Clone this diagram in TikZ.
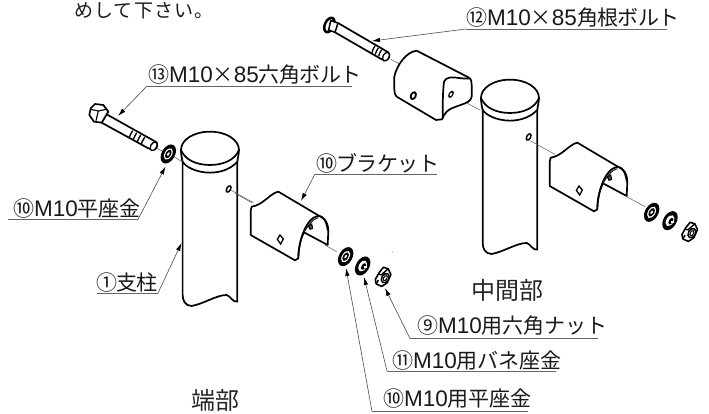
\documentclass[tikz,border=0pt]{standalone}
\usepackage{fontspec}
\setmainfont{Noto Sans CJK JP}
\newfontfamily\lat{Liberation Sans}
\usetikzlibrary{arrows.meta}
\newcommand{\spc}[1]{\addfontfeature{LetterSpace=#1}}
\newcommand{\mten}{{\lat\fontsize{22.5}{23}\selectfont M10}}
\newcommand{\ef}{{\lat\fontsize{22.5}{23}\selectfont 85}}
\tikzset{
 ink/.style={line width=1.7pt,line join=round,line cap=round},
 fine/.style={line width=.5pt,draw=black!65},
 lead/.style={line width=.6pt,draw=black!70,-{Latex[length=8pt,width=4.5pt,black]}},
 under/.style={line width=.6pt,draw=black!60},
 lab/.style={inner sep=0pt,anchor=west,font=\fontsize{21}{23}\selectfont,text=black!90},
 big/.style={inner sep=0pt,font=\fontsize{24}{26}\selectfont,text=black!85},
 zone/.style={x=.3333pt,y=-.3333pt}
}
\newcommand{\rpost}{%
 \draw[ink,fill=white] (548,330)--(548,735) .. controls (548,750) and (555,768) .. (575,768)
   .. controls (610,762) and (650,735) .. (680,735) .. controls (692,738) and (698,758) .. (712,755) --(712,330);
 \draw[ink,fill=white] (630,245) .. controls (680,245) and (717,270) .. (717,300)
   .. controls (717,312) and (712,330) .. (712,335) .. controls (695,355) and (665,368) .. (630,368)
   .. controls (590,368) and (555,350) .. (548,335) .. controls (545,325) and (543,310) .. (543,300)
   .. controls (543,270) and (580,245) .. (630,245) -- cycle;
 \draw[ink] (543,300) .. controls (555,330) and (590,345) .. (630,345) .. controls (670,345) and (705,330) .. (717,300);
 \fill[black,rotate around={-30:(686,417)}] (686,417) ellipse [x radius=8,y radius=13];
 \fill[white,rotate around={-30:(686,417)}] (686,417) ellipse [x radius=3,y radius=7];
}
\newcommand{\rbracket}{%
 \draw[ink,fill=white] (65,170) .. controls (100,165) and (120,130) .. (145,125)
   -- (280,205) .. controls (292,215) and (295,230) .. (295,245) -- (293,285)
   -- (222,247) .. controls (210,270) and (205,300) .. (205,325) -- (195,331) -- (62,255) -- (62,195)
   .. controls (62,185) and (62,175) .. (65,170) -- cycle;
 \draw[ink] (205,325) .. controls (205,280) and (225,205) .. (265,197) .. controls (280,197) and (290,215) .. (293,240);
 \draw[line width=1.1pt,draw=black!85] (222,247) .. controls (235,225) and (250,205) .. (265,203);
 \draw[line width=1pt,fill=black!70] (235,228)--(245,222)--(248,235)--(240,238)--cycle;
 \draw[line width=1.3pt,fill=white] (150,255)--(160,267)--(152,282)--(142,268)--cycle;
}
\newcommand{\rwasher}[1]{%
 \fill[black,rotate around={-30:(#1)}] (#1) ellipse [x radius=20,y radius=31];
 \fill[white,rotate around={-30:(#1)}] (#1) ellipse [x radius=11,y radius=19];
 \fill[black,rotate around={-30:(#1)}] (#1) ellipse [x radius=8,y radius=14];
 \fill[white,rotate around={-30:(#1)}] (#1) ellipse [x radius=3,y radius=6];
}
\newcommand{\rspring}[1]{%
 \fill[black,rotate around={-30:(#1)}] (#1) ellipse [x radius=20,y radius=31];
 \fill[white,rotate around={-30:(#1)}] (#1) ellipse [x radius=11,y radius=18];
 \fill[black,rotate around={-30:(#1)}] ([xshift=1pt]#1) ellipse [x radius=6,y radius=11];
 \fill[white] ([xshift=1.2pt,yshift=-.3pt]#1) rectangle ([xshift=4pt,yshift=-2pt]#1);
}
\newcommand{\rnut}[1]{%
 \begin{scope}[shift={(#1)},rotate=-30,x=1pt,y=1pt]
 \draw[line width=1.6pt,line join=round,fill=white] (-5,2)--(-4,8.5)--(1,9.5)--(6,6)--(7,-3)--(4,-9)--(-2,-9.5)--(-5,-6)--cycle;
 \draw[line width=1.4pt] (-5,0)--(-2,1)--(0,7)--(1,9.5);
 \draw[line width=1.4pt] (-2,-9)--(-2,-5);
 \draw[line width=1.5pt] (3,0) ellipse [x radius=3.5,y radius=5];
 \draw[line width=1pt] (3,0) ellipse [x radius=1.6,y radius=2.8];
 \end{scope}
}
\begin{document}
\begin{tikzpicture}[x=1pt,y=-1pt]
\useasboundingbox (0,0) rectangle (709,414);
% ---------- left assembly
\begin{scope}[shift={(0pt,-50pt)},zone]
 \rpost
 \draw[fine] (472,295)--(490,305) (522,320)--(545,335) (692,420)--(760,458);
 % bolt
 \draw[ink,fill=white] (320,193)--(470,277) .. controls (475,285) and (470,298) .. (460,300) -- (445,295) -- (305,218);
 \draw[line width=1.3pt,fill=white,rotate around={-30:(461,289)}] (461,289) ellipse [x radius=9,y radius=14];
 \foreach \d in {0,12,24,36}{\draw[line width=1.4pt] (398+\d,242+.55*\d) .. controls (392+\d,250+.55*\d) and (390+\d,258+.55*\d) .. (388+\d,262+.55*\d);}
 \draw[ink,fill=white] (285,162)--(310,165)--(325,185)--(310,210)--(305,218)--(282,215)--(268,195)--(272,175)--cycle;
 \draw[line width=1.1pt] (272,178)--(295,183)--(320,178) (295,183)--(288,212);
 \rwasher{505,312}
\end{scope}
\begin{scope}[shift={(230pt,-150pt)},zone]
 \draw[fine] (15,130)--(65,158) (285,285)--(320,305);
 \fill[black!50] (487,307) circle (1.5);
 \rbracket
 \rwasher{347,320}
 \rspring{398,348}
 \rnut{458,380}
\end{scope}
% ---------- right assembly
\begin{scope}[shift={(300pt,2pt)},zone]
 \rpost
\end{scope}
\begin{scope}[shift={(300pt,0pt)},zone]
 % bolt
 \draw[ink,fill=white] (114,69)--(265,157) .. controls (272,165) and (268,178) .. (257,181) -- (245,178)--(105,97);
 \draw[line width=1.3pt,fill=white,rotate around={-30:(258,170)}] (258,170) ellipse [x radius=9,y radius=14];
 \foreach \d in {0,10,20}{\draw[line width=1.3pt] (225+\d,138+.55*\d) .. controls (220+\d,145+.55*\d) and (217+\d,152+.55*\d) .. (216+\d,158+.55*\d);}
 \fill[black,rotate around={-25:(88,75)}] (88,75) ellipse [x radius=17,y radius=27];
 \fill[white,rotate around={-25:(88,75)}] (88,75) ellipse [x radius=9,y radius=19];
 \draw[line width=1.5pt,line join=round,fill=white] (92,62)--(114,69)--(105,97)--(86,90)--cycle;
 \draw[fine] (272,178)--(297,191) (465,290)--(540,330);
 % bracket
 \draw[ink,fill=white] (283,230) .. controls (290,195) and (320,155) .. (350,152)
   -- (505,232) .. controls (515,238) and (515,245) .. (515,255) -- (515,290)
   .. controls (512,315) and (460,315) .. (440,335) .. controls (432,345) and (428,352) .. (426,358)
   -- (408,360) -- (290,290) .. controls (282,285) and (282,260) .. (283,230) -- cycle;
 \draw[ink] (428,355) .. controls (428,320) and (428,280) .. (432,245) .. controls (445,220) and (480,240) .. (510,235);
 \fill[black,rotate around={-25:(340,287)}] (340,287) ellipse [x radius=10,y radius=14];
 \fill[white,rotate around={-25:(340,287)}] (340,287) ellipse [x radius=4,y radius=7];
 \fill[black,rotate around={-30:(453,283)}] (453,283) ellipse [x radius=7,y radius=12];
 \fill[white,rotate around={-30:(453,283)}] (453,283) ellipse [x radius=3,y radius=6];
\end{scope}
\begin{scope}[shift={(460pt,-90pt)},zone]
 \draw[fine] (210,152)--(285,193) (500,320)--(555,350);
 \rwasher{575,367}
 \rspring{630,392}
 \rnut{688,425}
\end{scope}
\begin{scope}[shift={(529pt,-101pt)},zone]
 \rbracket
\end{scope}
% ---------- labels
\node[lab,font=\fontsize{19}{20}\selectfont\spc{6}] (t0) at (74,10.5) {めして下さい。};
\node[lab] (t13) at (148,75) {\spc{-3}⑬\mten×\ef 六角ボルト};
\node[lab] (t10a) at (13,209) {\spc{-1}⑩\mten 平座金};
\node[lab] (t1) at (96,283) {\spc{-4}①支柱};
\node[lab] (t10b) at (316,163) {\spc{-3}⑩ブラケット};
\node[lab] (t12) at (466,18) {\spc{-3}⑫\mten×\ef 角根ボルト};
\node[lab] (t9) at (417,326) {⑨\mten 用六角ナット};
\node[lab] (t11) at (392,361) {⑪\mten 用バネ座金};
\node[lab] (t10c) at (383,399) {⑩\mten 用平座金};
\node[big] (e) at (215,400) {端部};
\node[big] (m) at (507,290) {中間部};
% ---------- leaders
\coordinate (a13) at (118,116); \coordinate (a10a) at (165.5,166.5); \coordinate (a1) at (181.5,243);
\coordinate (a10b) at (301,201); \coordinate (a12) at (372,41); \coordinate (a9) at (385,288);
\coordinate (a11) at (364,277); \coordinate (a10c) at (346,268);
\draw[under] (352,86)--(147,86); \draw[lead] (147,86)--(a13);
\draw[under] (8,219.5)--(138,219.5); \draw[lead] (138,219.5)--(a10a);
\draw[under] (97,293)--(158,293); \draw[lead] (158,293)--(a1);
\draw[under] (437,174)--(315,174); \draw[lead] (315,174)--(a10b);
\draw[under] (667,29)--(466,29); \draw[lead] (466,29)--(a12);
\draw[under] (598,338.5)--(410,338.5); \draw[lead] (410,338.5)--(a9);
\draw[under] (556,371)--(387,371); \draw[lead] (387,371)--(a11);
\draw[under] (528,411.5)--(372,411.5); \draw[lead] (372,411.5)--(a10c);
\end{tikzpicture}
\end{document}
